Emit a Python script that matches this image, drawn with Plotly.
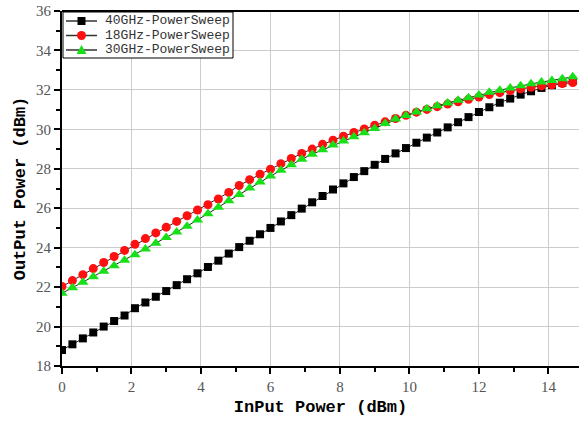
import plotly.graph_objects as go

input_power = [0.0, 0.3, 0.6, 0.9, 1.2, 1.5, 1.8, 2.1, 2.4, 2.7,
               3.0, 3.3, 3.6, 3.9, 4.2, 4.5, 4.8, 5.1, 5.4, 5.7,
               6.0, 6.3, 6.6, 6.9, 7.2, 7.5, 7.8, 8.1, 8.4, 8.7,
               9.0, 9.3, 9.6, 9.9, 10.2, 10.5, 10.8, 11.1, 11.4, 11.7,
               12.0, 12.3, 12.6, 12.9, 13.2, 13.5, 13.8, 14.1, 14.4, 14.7]

out_40ghz = [18.81, 19.10, 19.40, 19.70, 20.00, 20.28, 20.56, 20.93, 21.22, 21.51,
             21.80, 22.10, 22.40, 22.70, 23.02, 23.34, 23.70, 24.03, 24.35, 24.68,
             25.00, 25.33, 25.65, 25.98, 26.30, 26.62, 26.95, 27.26, 27.58, 27.88,
             28.20, 28.50, 28.78, 29.05, 29.32, 29.58, 29.84, 30.10, 30.36, 30.62,
             30.88, 31.12, 31.35, 31.56, 31.76, 31.93, 32.10, 32.24, 32.36, 32.45]

out_18ghz = [22.03, 22.33, 22.63, 22.94, 23.25, 23.55, 23.86, 24.17, 24.46, 24.75,
             25.04, 25.33, 25.62, 25.91, 26.18, 26.47, 26.80, 27.15, 27.45, 27.72,
             27.98, 28.26, 28.52, 28.78, 29.00, 29.24, 29.45, 29.65, 29.84, 30.02,
             30.21, 30.38, 30.55, 30.71, 30.87, 31.01, 31.15, 31.28, 31.40, 31.52,
             31.64, 31.76, 31.86, 31.96, 32.05, 32.13, 32.20, 32.26, 32.32, 32.37]

out_30ghz = [21.69, 21.97, 22.25, 22.53, 22.80, 23.08, 23.36, 23.64, 23.93, 24.22,
             24.51, 24.80, 25.09, 25.40, 25.72, 26.05, 26.38, 26.70, 27.03, 27.33,
             27.63, 27.92, 28.21, 28.48, 28.74, 28.96, 29.20, 29.41, 29.62, 29.83,
             30.04, 30.30, 30.52, 30.70, 30.88, 31.04, 31.19, 31.34, 31.47, 31.60,
             31.74, 31.88, 31.98, 32.10, 32.21, 32.31, 32.40, 32.48, 32.56, 32.66]

series_names = ["40GHz-PowerSweep", "18GHz-PowerSweep", "30GHz-PowerSweep"]
colors = ["#000000", "#ff1010", "#18e018"]
symbols = ["square", "circle", "triangle-up"]
sizes = [8, 9, 10]

W, H = 579, 422
ML, MR, MT, MB = 62, 0, 11, 56
PW, PH = W - ML - MR, H - MT - MB

fig = go.Figure()
for name, vals, col, sym, sz in zip(series_names, [out_40ghz, out_18ghz, out_30ghz],
                                    colors, symbols, sizes):
    fig.add_trace(go.Scatter(
        x=input_power, y=vals, name=name, mode="lines+markers",
        line=dict(color="#222222", width=1),
        marker=dict(color=col, symbol=sym, size=sz, line=dict(width=0)),
        showlegend=False,
    ))

tickfont = dict(family="Liberation Serif", size=15, color="#555555")
titlefont = dict(family="Liberation Mono", size=17, color="#000000")

fig.update_layout(
    width=W, height=H,
    margin=dict(l=ML, r=MR, t=MT, b=MB),
    paper_bgcolor="white", plot_bgcolor="white",
    showlegend=False,
)
fig.update_xaxes(
    range=[0, 14.88], dtick=2, tick0=0,
    showline=True, linecolor="#000000", linewidth=2, mirror=False,
    ticks="outside", ticklen=6, tickwidth=2, tickcolor="#000000",
    minor=dict(ticks="outside", dtick=1, ticklen=4, tickcolor="#000000", showgrid=False),
    showgrid=True, gridcolor="#cccccc", gridwidth=1,
    tickfont=tickfont, zeroline=False,
    title=dict(text="<b>InPut Power (dBm)</b>", font=titlefont, standoff=6),
)
fig.update_yaxes(
    range=[18, 36], dtick=2, tick0=18,
    showline=True, linecolor="#000000", linewidth=2, mirror=False,
    ticks="outside", ticklen=6, tickwidth=2, tickcolor="#000000",
    minor=dict(ticks="outside", dtick=1, ticklen=4, tickcolor="#000000", showgrid=False),
    showgrid=True, gridcolor="#cccccc", gridwidth=1,
    tickfont=tickfont, zeroline=False,
    title=dict(text="<b>OutPut Power (dBm)</b>", font=titlefont, standoff=6),
)
# top border line
fig.add_shape(type="line", xref="paper", yref="paper", x0=0, x1=1, y0=1, y1=1,
              line=dict(color="#000000", width=2))


def px(xp):
    return (xp - ML) / PW


def py(yp):
    return (H - MB - yp) / PH


# manual compact legend (box, sample lines, markers, labels)
fig.add_shape(type="rect", xref="paper", yref="paper",
              x0=px(63), x1=px(233), y0=py(58), y1=py(12),
              line=dict(color="#000000", width=1), fillcolor="white", layer="above")
rows = [21, 35.5, 50]
for name, col, sym, ry in zip(series_names, colors, symbols, rows):
    fig.add_shape(type="line", xref="paper", yref="paper",
                  x0=px(66), x1=px(97), y0=py(ry), y1=py(ry),
                  line=dict(color="#333333", width=1.5), layer="above")
    if sym == "square":
        fig.add_shape(type="rect", xref="paper", yref="paper",
                      x0=px(77.5), x1=px(85.5), y0=py(ry + 4), y1=py(ry - 4),
                      line=dict(width=0), fillcolor=col, layer="above")
    elif sym == "circle":
        fig.add_shape(type="circle", xref="paper", yref="paper",
                      x0=px(77), x1=px(86), y0=py(ry + 4.5), y1=py(ry - 4.5),
                      line=dict(width=0), fillcolor=col, layer="above")
    else:
        path = "M {:.5f},{:.5f} L {:.5f},{:.5f} L {:.5f},{:.5f} Z".format(
            px(76.5), py(ry + 4), px(86.5), py(ry + 4), px(81.5), py(ry - 5))
        fig.add_shape(type="path", xref="paper", yref="paper", path=path,
                      line=dict(width=0), fillcolor=col, layer="above")
    fig.add_annotation(xref="paper", yref="paper", x=px(104), y=py(ry),
                       xanchor="left", yanchor="middle", showarrow=False, borderpad=0,
                       text=name, font=dict(family="Liberation Mono", size=13, color="#333333"))

fig.write_html("out.html")
